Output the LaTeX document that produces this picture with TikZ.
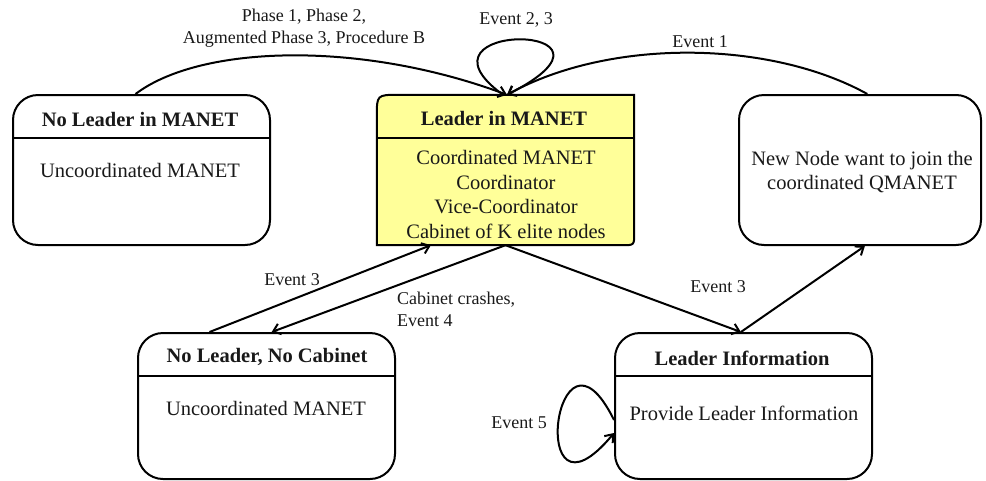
\documentclass[tikz,border=0pt]{standalone}
\usepackage{fontspec}
\setmainfont{Liberation Serif}
\usetikzlibrary{arrows.meta,calc}
\definecolor{yel}{RGB}{255,255,153}
\definecolor{txt}{RGB}{25,25,25}
\begin{document}
\begin{tikzpicture}[x=1pt,y=-1pt,
  box/.style={draw,line width=2pt,rounded corners=25pt,rectangle,inner sep=0pt,minimum width=#1},
  title/.style={font=\fontsize{20.5}{24}\selectfont\bfseries,text=txt,inner sep=0pt},
  body/.style={font=\fontsize{20.5}{24.5}\selectfont,text=txt,align=center,inner sep=0pt},
  lbl/.style={font=\fontsize{18}{22}\selectfont,text=txt,inner sep=0pt},
  arr/.style={line width=2pt,-{Straight Barb[length=7pt,width=11pt]}},
  div/.style={line width=2pt}
]
\useasboundingbox (0,0) rectangle (986,480);

% boxes
\node[box=257pt,minimum height=150pt] (b1) at (141.5,170) {};
\node[rectangle,inner sep=0pt,minimum width=257pt,minimum height=150pt] (b2) at (505.5,170) {};
\node[box=242pt,minimum height=150pt] (b3) at (860,170) {};
\node[box=257pt,minimum height=146pt] (b4) at (266.5,406) {};
\node[box=257pt,minimum height=146pt] (b5) at (743.5,406) {};

\draw[line width=2pt,fill=yel] (b2.south west) -- ($(b2.north west)+(0,22)$)
  .. controls (b2.north west) .. ($(b2.north west)+(22,0)$) -- (b2.north east)
  -- ($(b2.south east)+(0,-12)$) .. controls (b2.south east) .. ($(b2.south east)+(-12,0)$) -- cycle;

% dividers
\draw[div] ($(b1.north west)+(0,44)$) -- ($(b1.north east)+(0,44)$);
\draw[div] ($(b2.north west)+(0,43)$) -- ($(b2.north east)+(0,43)$);
\draw[div] ($(b4.north west)+(0,44)$) -- ($(b4.north east)+(0,44)$);
\draw[div] ($(b5.north west)+(0,44)$) -- ($(b5.north east)+(0,44)$);

% texts
\node[title] (t1) at (140,119) {No Leader in MANET};
\node[body] (c1) at (140,170) {Uncoordinated MANET};
\node[title] (t2) at (504,118) {Leader in MANET};
\node[body] (c2) at (506,194.5) {Coordinated MANET\\Coordinator\\Vice-Coordinator\\Cabinet of K elite nodes};
\node[body] (c3) at (862,172) {New Node want to join the\\coordinated QMANET};
\node[title] (t4) at (267,357) {No Leader, No Cabinet};
\node[body] (c4) at (266,408) {Uncoordinated MANET};
\node[title] (t5) at (742,358) {Leader Information};
\node[body] (c5) at (744,413) {Provide Leader Information};

% connector points
\coordinate (p1) at ($(b1.north west)!0.477!(b1.north east)$);
\coordinate (p3) at ($(b3.north west)!0.53!(b3.north east)$);
\coordinate (p2n) at ($(b2.north)+(1.5,0)$);
\coordinate (p2l) at ($(b2.north)+(-2.5,0)$);
\coordinate (p4a) at ($(b4.north west)!0.28!(b4.north east)$);
\coordinate (p4b) at ($(b4.north west)!0.52!(b4.north east)$);
\coordinate (p2a) at ($(b2.south west)!0.21!(b2.south east)$);
\coordinate (p5) at ($(b5.north west)!0.49!(b5.north east)$);
\coordinate (p3s) at ($(b3.south west)!0.52!(b3.south east)$);
\coordinate (p5a) at ($(b5.west)+(0,14)$);
\coordinate (p5b) at ($(b5.west)+(0,27)$);

% connectors
\draw[arr] (p1) .. controls (200,45) and (360,40) .. (p2n);
\draw[arr] (p3) .. controls (770,40) and (610,38) .. (p2n);
\draw[arr] (p2l) .. controls (400,20) and (650,22) .. (p2n);
\draw[arr] (p4a) -- (p2a);
\draw[arr] (b2.south) -- (p4b);
\draw[arr] (b2.south) -- (p5);
\draw[arr] (p5) -- (p3s);
\draw[arr] (p5a) .. controls (555,300) and (525,540) .. (p5b);

% labels
\node[lbl,align=center] (l1) at (304,28) {Phase 1, Phase 2,\\Augmented Phase 3, Procedure B};
\node[lbl] (l2) at (516,20) {Event 2, 3};
\node[lbl] (l3) at (700,42) {Event 1};
\node[lbl] (l4) at (292,280) {Event 3};
\node[lbl,align=left,anchor=west] (l5) at (397,309) {Cabinet crashes,\\Event 4};
\node[lbl] (l6) at (718,287) {Event 3};
\node[lbl] (l7) at (519,423) {Event 5};
\end{tikzpicture}
\end{document}
